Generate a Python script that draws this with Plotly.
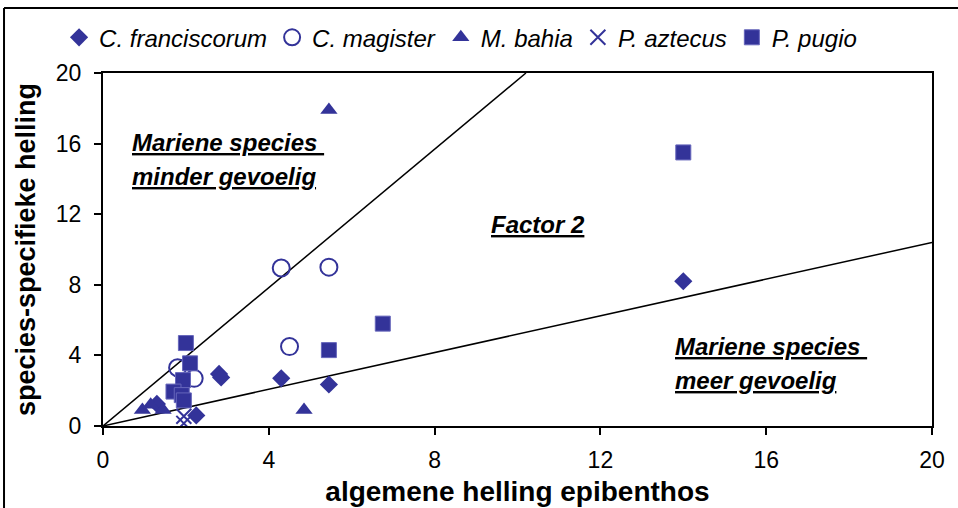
import plotly.graph_objects as go

# data
franc_x = [14.0, 4.3, 5.45, 2.8, 2.85, 1.3, 2.25]
franc_y = [8.2, 2.7, 2.35, 2.95, 2.75, 1.25, 0.6]

mag_x = [4.3, 5.45, 4.5, 1.8, 2.2]
mag_y = [8.95, 9.0, 4.5, 3.3, 2.7]

bahia_x = [5.45, 4.85, 0.95, 1.15, 1.45]
bahia_y = [17.9, 0.9, 0.9, 1.2, 0.9]

azt_x = [1.95, 1.95]
azt_y = [0.55, 0.15]

pugio_x = [14.0, 6.75, 5.45, 2.0, 2.1, 1.93, 1.7, 1.9, 1.95]
pugio_y = [15.5, 5.8, 4.3, 4.7, 3.55, 2.6, 1.95, 1.75, 1.45]

# factor-2 boundary lines (slope of y vs x)
slopes = [1.96, 0.52]
x_max = 20
y_max = 20

ticks = [0, 4, 8, 12, 16, 20]

navy = "#333399"
font = "Liberation Sans, Arial, sans-serif"

fig = go.Figure()

for s in slopes:
    x_end = min(x_max, y_max / s)
    fig.add_trace(go.Scatter(
        x=[0, x_end], y=[0, s * x_end], mode="lines",
        line=dict(color="black", width=1.5), showlegend=False, hoverinfo="skip",
    ))

series = [
    ("C. franciscorum", franc_x, franc_y, dict(symbol="diamond", size=14, color=navy)),
    ("C. magister", mag_x, mag_y,
     dict(symbol="circle-open", size=17, color=navy, line=dict(width=2, color=navy))),
    ("M. bahia", bahia_x, bahia_y, dict(symbol="triangle-up", size=15, color=navy)),
    ("P. aztecus", azt_x, azt_y,
     dict(symbol="x-thin-open", size=15, color=navy, line=dict(width=2, color=navy))),
    ("P. pugio", pugio_x, pugio_y,
     dict(symbol="square", size=15, color=navy, line=dict(width=1, color="#6666bb"))),
]
for name, xs, ys, marker in series:
    fig.add_trace(go.Scatter(x=xs, y=ys, mode="markers", name=name, marker=marker))

ann_font = dict(family=font, size=24, color="black")
labels = [
    (0.65, 16.05, "Mariene species ", "left"),
    (0.65, 14.15, "minder gevoelig", "left"),
    (10.5, 11.4, "Factor 2", "center"),
    (13.75, 4.5, "Mariene species ", "left"),
    (13.75, 2.6, "meer gevoelig", "left"),
]
for x, y, t, anchor in labels:
    fig.add_annotation(x=x, y=y, text="<b><i><u>" + t + "</u></i></b>", showarrow=False,
                       xanchor=anchor, yanchor="middle", font=ann_font)

axis_common = dict(
    showgrid=False, zeroline=False, showline=True, linecolor="black", linewidth=2,
    mirror=True, ticks="outside", ticklen=7, tickwidth=1.5, tickcolor="black",
    tickvals=ticks, tickfont=dict(family=font, size=23, color="black"), automargin=False,
)
fig.update_xaxes(range=[0, x_max], ticklabelstandoff=5, title=dict(
    text="<b>algemene helling epibenthos</b>", font=dict(family=font, size=28, color="black"),
    standoff=10), **axis_common)
fig.update_yaxes(range=[0, y_max], ticklabelstandoff=8, title=dict(
    text="<b>species-specifieke helling</b>", font=dict(family=font, size=27, color="black"),
    standoff=12), **axis_common)

# outer frame of the chart object (only left and top edges are in view)
fig.add_shape(type="line", xref="paper", yref="paper", x0=-0.1194, x1=-0.1194, y0=-0.5, y1=1.184,
              line=dict(color="black", width=2), layer="below")
fig.add_shape(type="line", xref="paper", yref="paper", x0=-0.1194, x1=1.5, y0=1.184, y1=1.184,
              line=dict(color="black", width=2), layer="below")

fig.update_layout(
    width=958, height=508,
    margin=dict(l=103, r=26, t=73, b=82, autoexpand=False),
    plot_bgcolor="white", paper_bgcolor="white",
    font=dict(family=font, color="black"),
    legend=dict(orientation="h", x=-0.053, xanchor="left", y=1.10, yanchor="middle",
                font=dict(family=font, size=24, color="black", style="italic"), itemwidth=30,
                traceorder="normal"),
)

# let the figure fill the window exactly (no default page margin)
fig.write_html("out.html", config={"displayModeBar": False},
               post_script="document.body.style.margin='0';"
                           "document.body.style.overflow='hidden';")
